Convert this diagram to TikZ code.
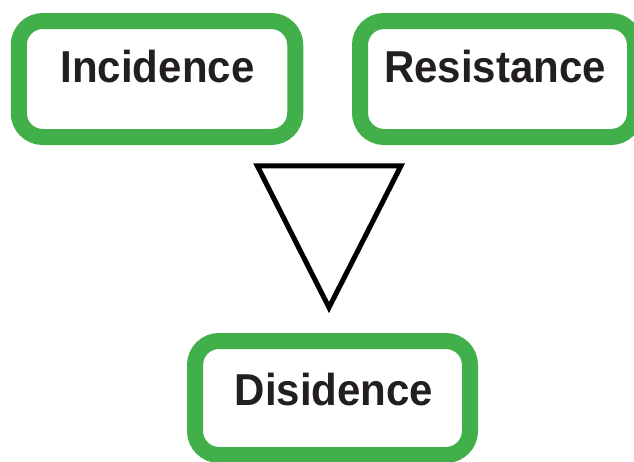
\documentclass[tikz,border=0pt]{standalone}
\usepackage{fontspec}
\setmainfont[FakeStretch=0.94]{Liberation Sans}
\definecolor{boxgreen}{HTML}{41AF4A}
\definecolor{ink}{HTML}{231F20}
\begin{document}
\begin{tikzpicture}[x=1pt,y=-1pt,
  box/.style={draw=boxgreen, line width=16pt, rounded corners=24pt, fill=white,
    minimum width=#1, minimum height=116pt, inner sep=0pt},
  lbl/.style={text=ink, anchor=base, inner sep=0pt,
    font=\bfseries\fontsize{44.7}{50}\selectfont},
  tri/.style={draw=black, line width=5pt, line join=miter}]
\useasboundingbox (0,0) rectangle (634,461);
\clip (0,0) rectangle (634,461);
\node[box=276.5pt] (inc) at (157,79) {};
\node[box=275pt] (res) at (497.5,79) {};
\node[box=275pt, minimum height=114pt] (dis) at (332.5,398) {};
\node[lbl] (incT) at (157.5,82) {Incidence};
\node[lbl] (resT) at (495,82) {Resistance};
\node[lbl] (disT) at (334,405) {Disidence};
\coordinate (tl) at (257.3,165.8);
\coordinate (tr) at (401,165.8);
\coordinate (tb) at (329,307.5);
\draw[tri] (tl) -- (tr) -- (tb) -- cycle;
\end{tikzpicture}
\end{document}
